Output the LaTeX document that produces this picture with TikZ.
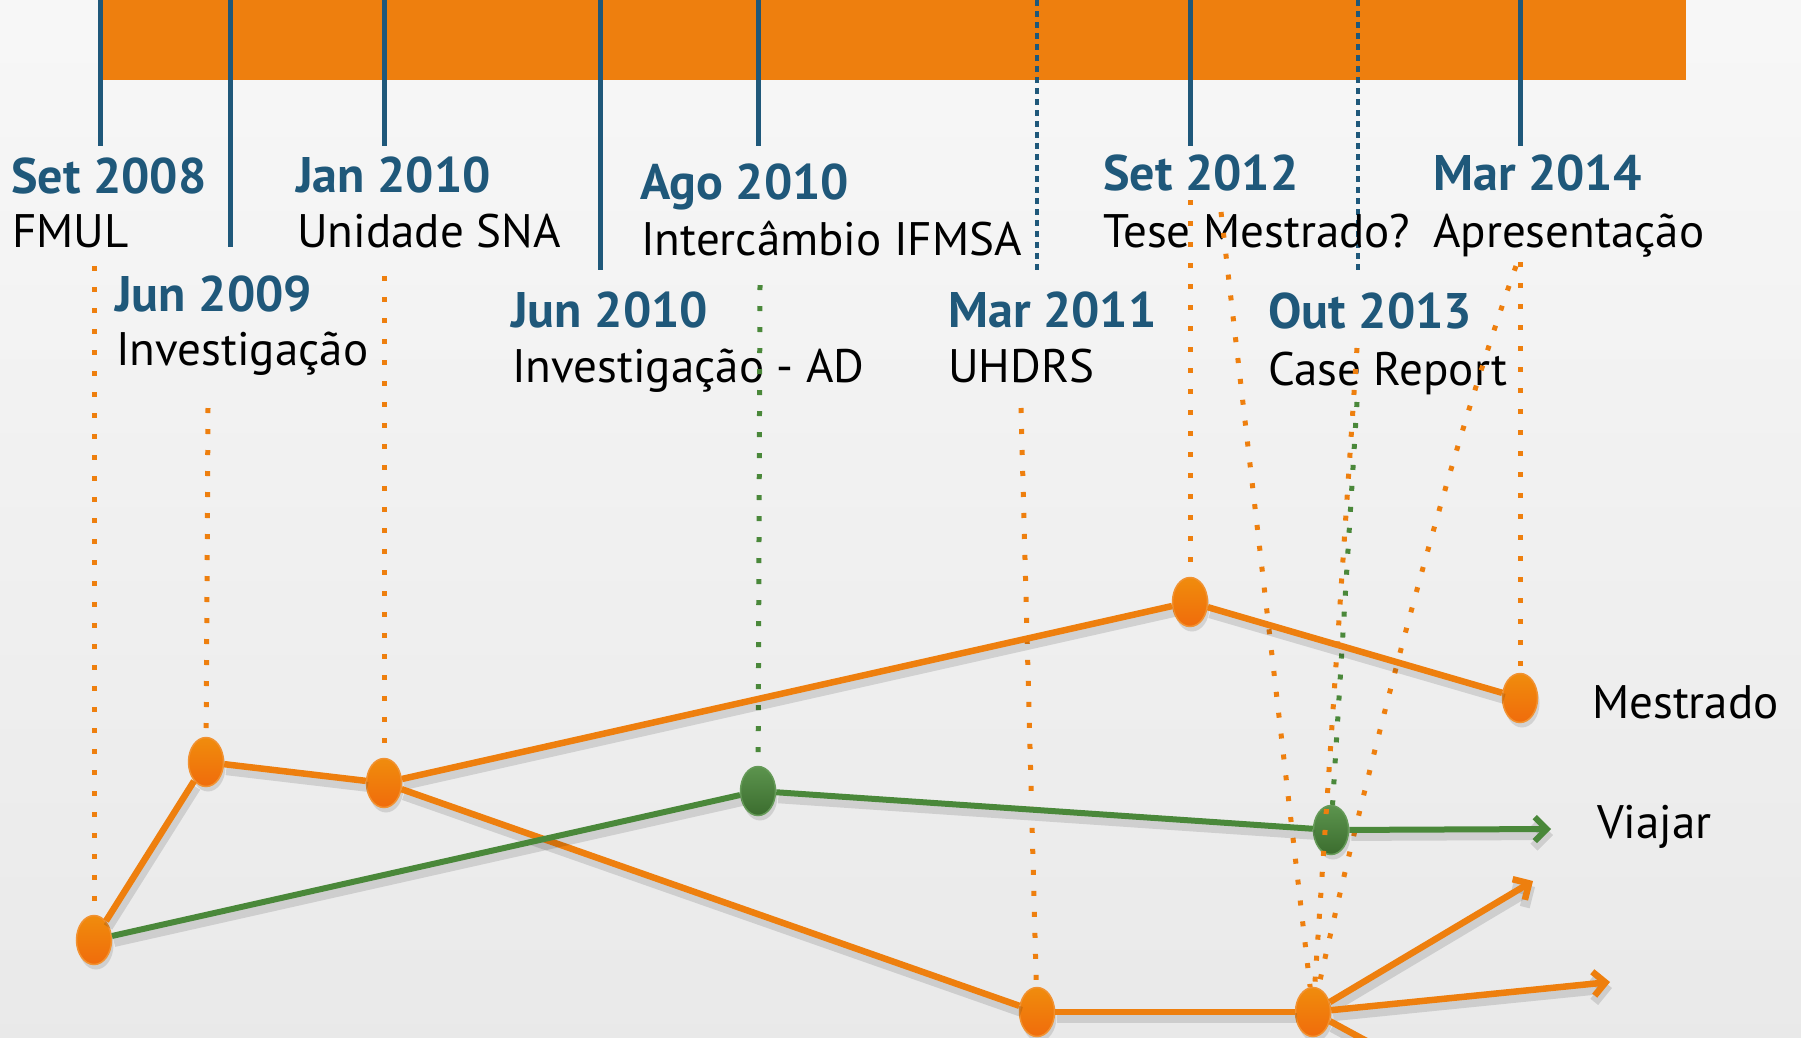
\documentclass[tikz,border=0pt]{standalone}
\usepackage{fontspec}
\setmainfont{PT Sans}
\usetikzlibrary{shapes.geometric,arrows.meta,shadows}
\definecolor{barorange}{RGB}{238,127,14}
\definecolor{tickblue}{RGB}{31,88,122}
\definecolor{pathgreen}{RGB}{74,136,58}
\tikzset{
  datelbl/.style={anchor=base west,inner sep=0pt,text=tickblue,font=\fontsize{50}{60}\selectfont\bfseries},
  eventlbl/.style={anchor=base west,inner sep=0pt,font=\fontsize{47}{56}\selectfont},
  tickline/.style={tickblue,line width=5pt},
  tickdots/.style={tickblue,line width=4.5pt,dash pattern=on 6pt off 5pt},
  odots/.style={barorange,line width=5pt,dash pattern=on 5pt off 16pt},
  gdots/.style={pathgreen,line width=5pt,dash pattern=on 5pt off 16pt},
  ptorange/.style={ellipse,minimum width=35pt,minimum height=49pt,inner sep=0pt,
    draw=barorange!85!white,line width=1.5pt,top color=barorange!90!yellow,bottom color=barorange!85!red,
    drop shadow={opacity=0.25,shadow xshift=2pt,shadow yshift=-5pt}},
  ptgreen/.style={ptorange,draw=pathgreen!85!white,top color=pathgreen!90!white,bottom color=pathgreen!80!black},
  shd/.style={preaction={draw=black,opacity=0.12,line width=10pt,transform canvas={shift={(2pt,-6pt)}}}},
  opath/.style={barorange,line width=6.5pt,shd},
  gpath/.style={pathgreen,line width=6pt,shd},
  tipbarb/.style={-{Straight Barb[length=12pt,width=24pt]}}
}
\begin{document}
\begin{tikzpicture}[x=1pt,y=-1pt]
\useasboundingbox (0,0) rectangle (1801,1037);
\clip (0,0) rectangle (1801,1037);
\shade[top color=gray!6,bottom color=gray!17] (0,0) rectangle (1801,1037);

% timeline bar
\fill[barorange] (98,0) rectangle (1686,80);
\draw[tickline] (100,0) -- (100,146);
\draw[tickline] (230,0) -- (230,247);
\draw[tickline] (384,0) -- (384,146);
\draw[tickline] (600,0) -- (600,270);
\draw[tickline] (758,0) -- (758,146);
\draw[tickdots] (1037,0) -- (1037,270);
\draw[tickline] (1190,0) -- (1190,146);
\draw[tickdots] (1358,0) -- (1358,270);
\draw[tickline] (1520,0) -- (1520,146);

% dates and events
\node[datelbl] (d2008) at (11,193) {Set 2008};
\node[eventlbl] (e2008) at (12,247) {FMUL};
\node[datelbl] (d2009) at (115,311) {Jun 2009};
\node[eventlbl] (e2009) at (116,365) {Investigação};
\node[datelbl] (d2010a) at (296,192) {Jan 2010};
\node[eventlbl] (e2010a) at (297,247) {Unidade SNA};
\node[datelbl] (d2010b) at (511,327) {Jun 2010};
\node[eventlbl] (e2010b) at (512,382) {Investigação - AD};
\node[datelbl] (d2010c) at (640,199) {Ago 2010};
\node[eventlbl] (e2010c) at (641,255) {Intercâmbio IFMSA};
\node[datelbl] (d2011) at (948,327) {Mar 2011};
\node[eventlbl] (e2011) at (948,382) {UHDRS};
\node[datelbl] (d2012) at (1103,190) {Set 2012};
\node[eventlbl] (e2012) at (1103,247) {Tese Mestrado?};
\node[datelbl] (d2013) at (1268,328) {Out 2013};
\node[eventlbl] (e2013) at (1268,385) {Case Report};
\node[datelbl] (d2014) at (1433,190) {Mar 2014};
\node[eventlbl] (e2014) at (1433,247) {Apresentação};
\node[eventlbl] (mestrado) at (1592,718) {Mestrado};
\node[eventlbl] (viajar) at (1597,838) {Viajar};

% points
\node[ptorange] (pA) at (94,940) {};
\node[ptorange] (pB) at (206,762) {};
\node[ptorange] (pC) at (384,783) {};
\node[ptgreen] (pD) at (758,791) {};
\node[ptorange] (pE) at (1037,1012) {};
\node[ptorange] (pF) at (1190,602) {};
\node[ptorange] (pG) at (1313,1012) {};
\node[ptgreen] (pH) at (1331,830) {};
\node[ptorange] (pI) at (1520,698) {};

% ends of the dotted leads
\coordinate (tA) at (94,266);
\coordinate (tB) at (208,408);
\coordinate (tC) at (384,276);
\coordinate (tD) at (760,285);
\coordinate (tE) at (1021,408);
\coordinate (tF) at (1190,200);
\coordinate (tF2) at (1221,212);
\coordinate (tG) at (1357,348);
\coordinate (tH) at (1357,402);
\coordinate (tI) at (1520,262);
\coordinate (tI2) at (1516,266);

\draw[odots] (tA) -- (pA);
\draw[odots] (tB) -- (pB);
\draw[odots] (tC) -- (pC);
\draw[gdots] (tD) -- (pD);
\draw[odots] (tE) -- (pE);
\draw[odots] (tF) -- (pF);
\draw[odots] (tF2) -- (pG);
\draw[odots] (tG) -- (pG);
\draw[gdots] (tH) -- (pH);
\draw[odots] (tI) -- (pI);
\draw[odots] (tI2) .. controls (1440,480) and (1360,800) .. (pG);

% arrow ends
\coordinate (vEnd) at (1551,829);
\coordinate (oEnd1) at (1533,881);
\coordinate (oEnd2) at (1610,982);
\coordinate (oEnd3) at (1420,1070);

% paths
\draw[opath] (pA) -- (pB);
\draw[opath] (pB) -- (pC);
\draw[opath] (pC) -- (pF);
\draw[opath] (pF) -- (pI);
\draw[opath] (pC) -- (pE);
\draw[opath] (pE) -- (pG);
\draw[opath,tipbarb] (pG) -- (oEnd1);
\draw[opath,tipbarb] (pG) -- (oEnd2);
\draw[opath] (pG) -- (oEnd3);
\draw[gpath] (pA) -- (pD);
\draw[gpath] (pD) -- (pH);
\draw[gpath,tipbarb] (pH) -- (vEnd);
\end{tikzpicture}
\end{document}
